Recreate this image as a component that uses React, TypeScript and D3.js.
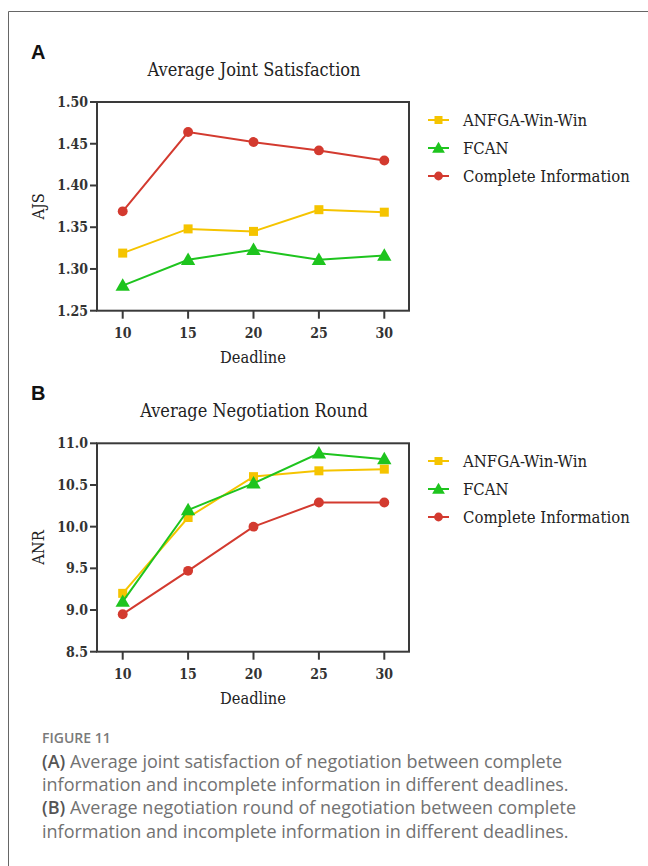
import React, { useEffect, useRef } from 'react';
import * as d3 from 'd3';

const deadlines = [10, 15, 20, 25, 30];

const seriesNames = ['ANFGA-Win-Win', 'FCAN', 'Complete Information'];
const seriesColors = ['#f5c400', '#1ec41e', '#d33a2f'];
const seriesShapes = ['square', 'triangle', 'circle'];

// panel A: average joint satisfaction
const ajsWinWin = [1.319, 1.348, 1.345, 1.371, 1.368];
const ajsFcan = [1.280, 1.311, 1.323, 1.311, 1.316];
const ajsComplete = [1.369, 1.464, 1.452, 1.442, 1.430];
const ajsTicks = [1.25, 1.30, 1.35, 1.40, 1.45, 1.50];

// panel B: average negotiation round
const anrWinWin = [9.2, 10.11, 10.6, 10.67, 10.69];
const anrFcan = [9.1, 10.2, 10.52, 10.88, 10.81];
const anrComplete = [8.95, 9.47, 10.0, 10.29, 10.29];
const anrTicks = [8.5, 9.0, 9.5, 10.0, 10.5, 11.0];

const captionLines = [
    ['(A)', ' Average joint satisfaction of negotiation between complete'],
    ['', 'information and incomplete information in different deadlines.'],
    ['(B)', ' Average negotiation round of negotiation between complete'],
    ['', 'information and incomplete information in different deadlines.'],
];

const serif = '"DejaVu Serif Condensed", "DejaVu Serif", serif';
const tickFont = '"DejaVu Serif Condensed", "DejaVu Serif", serif';

const App = () => {
    const svgRef = useRef(null);

    useEffect(() => {
        const svg = d3.select(svgRef.current);
        svg.selectAll('*').remove();

        //outer frame
        svg.append('path')
            .attr('d', 'M8.5,880 L8.5,11.5 L660,11.5')
            .attr('fill', 'none')
            .attr('stroke', '#666')
            .attr('stroke-width', 1);

        const drawMarker = (g, shape, x, y, color, s) => {
            if (shape === 'square') {
                g.append('rect')
                    .attr('x', x - s * 0.5).attr('y', y - s * 0.5)
                    .attr('width', s).attr('height', s)
                    .attr('fill', color);
            } else if (shape === 'circle') {
                g.append('circle')
                    .attr('cx', x).attr('cy', y).attr('r', s * 0.55)
                    .attr('fill', color);
            } else {
                g.append('path')
                    .attr('d', d3.symbol(d3.symbolTriangle, s * s * 1.1)())
                    .attr('transform', `translate(${x},${y + 1})`)
                    .attr('fill', color);
            }
        };

        const drawPanel = (opts) => {
            const { top, bottom, letter, title, yLabel, ticks, domain, series, fmt, legendY } = opts;
            const left = 97, right = 409;
            const g = svg.append('g');

            const x = d3.scaleLinear().domain([10, 30]).range([122.7, 384.3]);
            const y = d3.scaleLinear().domain(domain).range([bottom, top]);

            //panel letter
            g.append('text')
                .attr('x', 31).attr('y', top - 43)
                .attr('font-family', '"Liberation Sans", Arial, sans-serif')
                .attr('font-weight', 'bold')
                .attr('font-size', 20)
                .attr('fill', '#111')
                .text(letter);

            //title
            g.append('text')
                .attr('x', 254).attr('y', top - 26)
                .attr('text-anchor', 'middle')
                .attr('font-family', serif)
                .attr('font-size', 18)
                .attr('fill', '#222')
                .text(title);

            //frame
            g.append('rect')
                .attr('x', left).attr('y', top)
                .attr('width', right - left).attr('height', bottom - top)
                .attr('fill', 'none')
                .attr('stroke', '#3a3a3a')
                .attr('stroke-width', 2);

            //y ticks
            ticks.forEach(t => {
                g.append('line')
                    .attr('x1', left - 7).attr('x2', left)
                    .attr('y1', y(t)).attr('y2', y(t))
                    .attr('stroke', '#3a3a3a').attr('stroke-width', 2);
                g.append('text')
                    .attr('x', left - 9).attr('y', y(t) + 5)
                    .attr('text-anchor', 'end')
                    .attr('font-family', tickFont)
                    .attr('font-weight', 'bold')
                    .attr('font-size', 14)
                    .attr('fill', '#333')
                    .text(fmt(t));
            });

            //x ticks
            deadlines.forEach(d => {
                g.append('line')
                    .attr('x1', x(d)).attr('x2', x(d))
                    .attr('y1', bottom).attr('y2', bottom + 8)
                    .attr('stroke', '#3a3a3a').attr('stroke-width', 2);
                g.append('text')
                    .attr('x', x(d)).attr('y', bottom + 27)
                    .attr('text-anchor', 'middle')
                    .attr('font-family', tickFont)
                    .attr('font-weight', 'bold')
                    .attr('font-size', 14)
                    .attr('fill', '#333')
                    .text(d);
            });

            //axis labels
            g.append('text')
                .attr('x', 253).attr('y', bottom + 52)
                .attr('text-anchor', 'middle')
                .attr('font-family', serif)
                .attr('font-size', 16.3)
                .attr('fill', '#222')
                .text('Deadline');

            g.append('text')
                .attr('transform', `translate(44,${(top + bottom) / 2}) rotate(-90)`)
                .attr('text-anchor', 'middle')
                .attr('font-family', serif)
                .attr('font-size', 16.3)
                .attr('fill', '#222')
                .text(yLabel);

            //lines and markers
            const line = d3.line()
                .x((d, i) => x(deadlines[i]))
                .y(d => y(d));

            series.forEach((vals, si) => {
                g.append('path')
                    .datum(vals)
                    .attr('fill', 'none')
                    .attr('stroke', seriesColors[si])
                    .attr('stroke-width', 2)
                    .attr('d', line);
                vals.forEach((v, i) => {
                    drawMarker(g, seriesShapes[si], x(deadlines[i]), y(v), seriesColors[si], 9);
                });
            });

            //legend
            seriesNames.forEach((name, si) => {
                const ly = legendY + si * 28;
                g.append('line')
                    .attr('x1', 428).attr('x2', 449)
                    .attr('y1', ly).attr('y2', ly)
                    .attr('stroke', seriesColors[si])
                    .attr('stroke-width', 2);
                drawMarker(g, seriesShapes[si], 438.5, ly, seriesColors[si], 8);
                g.append('text')
                    .attr('x', 463).attr('y', ly + 5.5)
                    .attr('font-family', serif)
                    .attr('font-size', 16.6)
                    .attr('fill', '#222')
                    .text(name);
            });
        };

        drawPanel({
            top: 102, bottom: 310.7, letter: 'A', title: 'Average Joint Satisfaction',
            yLabel: 'AJS', ticks: ajsTicks, domain: [1.25, 1.5],
            series: [ajsWinWin, ajsFcan, ajsComplete], fmt: d3.format('.2f'), legendY: 120
        });

        drawPanel({
            top: 443.3, bottom: 651.7, letter: 'B', title: 'Average Negotiation Round',
            yLabel: 'ANR', ticks: anrTicks, domain: [8.5, 11],
            series: [anrWinWin, anrFcan, anrComplete], fmt: d3.format('.1f'), legendY: 461
        });

        //caption
        const cap = svg.append('g')
            .attr('font-family', '"Open Sans", Lato, sans-serif');

        cap.append('text')
            .attr('x', 42).attr('y', 742.5)
            .attr('font-size', 14)
            .attr('font-weight', 600)
            .attr('fill', '#7a7a7a')
            .text('FIGURE 11');

        captionLines.forEach((parts, i) => {
            const t = cap.append('text')
                .attr('x', 42).attr('y', 767.5 + i * 23.4)
                .attr('font-size', 18)
                .attr('fill', '#727272');
            if (parts[0]) {
                t.append('tspan').attr('font-weight', 600).attr('fill', '#555').text(parts[0]);
            }
            t.append('tspan').text(parts[1]);
        });
    }, []);

    return (
        <svg ref={svgRef} width={648} height={866}
            style={{ position: 'absolute', left: 0, top: 0, display: 'block', background: '#fff' }} />
    );
};

export default App;
